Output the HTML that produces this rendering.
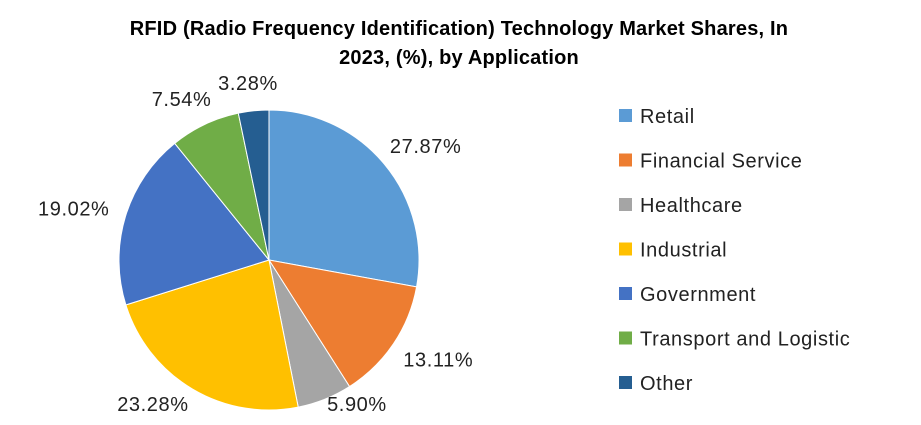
<!DOCTYPE html>
<html><head><meta charset="utf-8"><style>
body{margin:0;background:#fff;width:921px;height:420px;overflow:hidden;font-family:"Liberation Sans",Calibri,sans-serif}
</style></head><body>
<svg width="921" height="420">
<text x="459" y="35" text-anchor="middle" font-size="20" font-weight="bold" letter-spacing="0.2" fill="#000">RFID (Radio Frequency Identification) Technology Market Shares, In</text>
<text x="459" y="64" text-anchor="middle" font-size="20" font-weight="bold" letter-spacing="0.2" fill="#000">2023, (%), by Application</text>
<g id="slices"></g><g id="labels"></g><g id="legend"></g>
</svg>
<script>
const categories=["Retail","Financial Service","Healthcare","Industrial","Government","Transport and Logistic","Other"];
const values=[27.87,13.11,5.90,23.28,19.02,7.54,3.28];
const colors=["#5B9BD5","#ED7D31","#A5A5A5","#FFC000","#4472C4","#70AD47","#255E91"];
const NS="http://www.w3.org/2000/svg";
const cx=269,cy=260,r=150;
const total=values.reduce((a,b)=>a+b,0);
const sg=document.getElementById('slices'),lg=document.getElementById('labels'),leg=document.getElementById('legend');
function pt(a,rr){return [cx+rr*Math.sin(a),cy-rr*Math.cos(a)];}
let acc=0;
values.forEach((v,i)=>{
 const a0=acc/total*2*Math.PI;acc+=v;const a1=acc/total*2*Math.PI;
 const p0=pt(a0,r),p1=pt(a1,r);
 const p=document.createElementNS(NS,'path');
 p.setAttribute('d',`M${cx},${cy}L${p0[0]},${p0[1]}A${r},${r} 0 ${a1-a0>Math.PI?1:0} 1 ${p1[0]},${p1[1]}Z`);
 p.setAttribute('fill',colors[i]);p.setAttribute('stroke','#fff');p.setAttribute('stroke-width','1');
 
 
 sg.appendChild(p);
 const am=(a0+a1)/2,lp=pt(am,r+18);
 const s=Math.sin(am),c=Math.cos(am);
 let lx=lp[0]+36*s, ly=lp[1]-10*c;
 if(ly>404){lx+=12*Math.sign(s);ly=404;}
 const t=document.createElementNS(NS,'text');
 t.setAttribute('x',lx);t.setAttribute('y',ly+7);
 t.setAttribute('text-anchor','middle');
 t.setAttribute('font-size','20');t.setAttribute('letter-spacing','0.6');t.setAttribute('fill','#222');
 t.textContent=v.toFixed(2)+'%';
 
 
 lg.appendChild(t);
 const y=116+i*44.5;
 const rc=document.createElementNS(NS,'rect');
 rc.setAttribute('x',619);rc.setAttribute('y',y-7);rc.setAttribute('width',13);rc.setAttribute('height',13);rc.setAttribute('fill',colors[i]);
 
 
 leg.appendChild(rc);
 const lt=document.createElementNS(NS,'text');
 lt.setAttribute('x',640);lt.setAttribute('y',y+7);lt.setAttribute('font-size','20');lt.setAttribute('letter-spacing','0.6');lt.setAttribute('fill','#222');
 lt.textContent=categories[i];
 
 
 leg.appendChild(lt);
});
</script>
</body></html>
